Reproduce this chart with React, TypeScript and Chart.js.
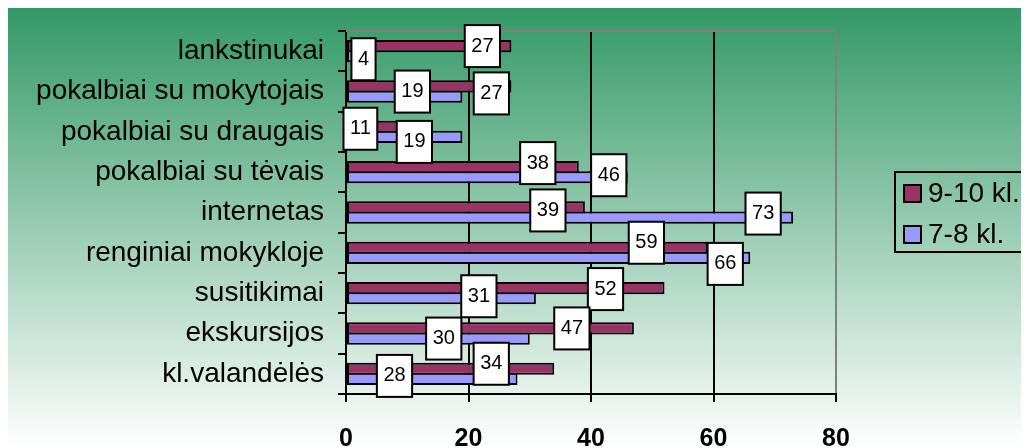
import React, { useEffect, useRef } from "react";
import { Chart, registerables } from "chart.js";

Chart.register(...registerables);

const categories = [
  "lankstinukai",
  "pokalbiai su mokytojais",
  "pokalbiai su draugais",
  "pokalbiai su tėvais",
  "internetas",
  "renginiai mokykloje",
  "susitikimai",
  "ekskursijos",
  "kl.valandėlės",
];
const series910 = [27, 27, 11, 38, 39, 59, 52, 47, 34];
const series78 = [4, 19, 19, 46, 73, 66, 31, 30, 28];
const seriesNames = ["9-10 kl.", "7-8 kl."];
const xTickValues = [0, 20, 40, 60, 80];

// styling: shift (px) of each value box from the bar end / bar centre
const labelShift910 = [[-29, 0], [-20, 7], [-53, 2], [-41, -4], [-37, 3], [-61, -5], [-59, 1], [-62, 0], [-63, -5]];
const labelShift78 = [[-7, 3], [-50, -5], [-48, 5], [-19, -2], [-30, -4], [-25, 6], [-57, -2], [-86, 0], [-123, -3]];

const FONT = '"Liberation Sans", Arial, sans-serif';
const COLORS = ["#993366", "#9999FF"];

const boxLabels = {
  id: "boxLabels",
  afterDatasetsDraw(chart: any) {
    const ctx = chart.ctx;
    ctx.save();
    ctx.font = `20px ${FONT}`;
    ctx.textAlign = "center";
    ctx.textBaseline = "middle";
    chart.data.datasets.forEach((ds: any, di: number) => {
      const meta = chart.getDatasetMeta(di);
      const shifts = di === 0 ? labelShift910 : labelShift78;
      meta.data.forEach((bar: any, i: number) => {
        const { x, y } = bar.getProps(["x", "y"], true);
        const cx = x + shifts[i][0];
        const cy = y + shifts[i][1];
        const text = String(ds.data[i]);
        const w = ctx.measureText(text).width + 13;
        const h = 42;
        ctx.fillStyle = "#ffffff";
        ctx.fillRect(cx - w / 2, cy - h / 2, w, h);
        ctx.lineWidth = 2;
        ctx.strokeStyle = "#000000";
        ctx.strokeRect(cx - w / 2, cy - h / 2, w, h);
        ctx.fillStyle = "#000000";
        ctx.fillText(text, cx, cy);
      });
    });
    ctx.restore();
  },
};

const frame = {
  id: "frame",
  beforeDatasetsDraw(chart: any) {
    const { ctx, chartArea } = chart;
    ctx.save();
    ctx.strokeStyle = "#808080";
    ctx.lineWidth = 2;
    ctx.beginPath();
    ctx.moveTo(chartArea.left, chartArea.top);
    ctx.lineTo(chartArea.right, chartArea.top);
    ctx.stroke();
    ctx.restore();
  },
};

const boxLegend = {
  id: "boxLegend",
  afterDraw(chart: any) {
    const ctx = chart.ctx;
    ctx.save();
    ctx.strokeStyle = "#000";
    ctx.lineWidth = 2;
    ctx.strokeRect(887, 164, 160, 80);
    ctx.font = `28px ${FONT}`;
    ctx.textAlign = "left";
    ctx.textBaseline = "alphabetic";
    seriesNames.forEach((name, i) => {
      const top = 177 + i * 41;
      ctx.fillStyle = COLORS[i];
      ctx.fillRect(896, top, 17, 17);
      ctx.strokeStyle = "#000";
      ctx.lineWidth = 2;
      ctx.strokeRect(896, top, 17, 17);
      ctx.fillStyle = "#000";
      ctx.fillText(name, 920, 194 + i * 41);
    });
    ctx.restore();
  },
};

export default function App() {
  const ref = useRef<HTMLCanvasElement | null>(null);
  useEffect(() => {
    if (!ref.current) return;
    const chart = new Chart(ref.current, {
      type: "bar",
      data: {
        labels: categories,
        datasets: [
          {
            label: seriesNames[0],
            data: series910,
            backgroundColor: COLORS[0],
            borderColor: "#000",
            borderWidth: 2,
            borderSkipped: false,
            categoryPercentage: 0.503,
            barPercentage: 1.197,
          },
          {
            label: seriesNames[1],
            data: series78,
            backgroundColor: COLORS[1],
            borderColor: "#000",
            borderWidth: 2,
            borderSkipped: false,
            categoryPercentage: 0.503,
            barPercentage: 1.197,
          },
        ],
      },
      options: {
        indexAxis: "y",
        animation: false,
        responsive: true,
        maintainAspectRatio: false,
        layout: { padding: { top: 23, right: 193, left: 0, bottom: 0 } },
        plugins: { legend: { display: false }, tooltip: { enabled: false } },
        scales: {
          x: {
            type: "linear",
            min: 0,
            max: 80,
            afterBuildTicks: (scale: any) => {
              scale.ticks = xTickValues.map((v) => ({ value: v }));
            },
            afterFit: (scale: any) => {
              scale.height = 54;
              scale.paddingLeft = 0;
              scale.paddingRight = 0;
            },
            grid: {
              color: (c: any) => (c.tick && c.tick.value === 80 ? "#808080" : "#000"),
              tickColor: "#000",
              lineWidth: 2,
              tickLength: 8,
            },
            border: { color: "#000", width: 2 },
            ticks: {
              color: "#000",
              padding: 22,
              font: { family: FONT, size: 25, weight: "bold" },
            },
          },
          y: {
            type: "category",
            afterFit: (scale: any) => {
              scale.width = 338;
              scale.paddingTop = 0;
              scale.paddingBottom = 0;
            },
            grid: {
              offset: true,
              drawOnChartArea: false,
              color: "#000",
              lineWidth: 2,
              tickLength: 8,
            },
            border: { color: "#000", width: 2 },
            ticks: {
              color: "#000",
              padding: 14,
              autoSkip: false,
              font: { family: FONT, size: 28 },
            },
          },
        },
      },
      plugins: [frame, boxLabels, boxLegend],
    } as any);
    return () => chart.destroy();
  }, []);

  return (
    <div
      style={{
        width: 1021,
        height: 440,
        background: "linear-gradient(to bottom, #339966 0%, #ffffff 100%)",
        position: "relative",
      }}
    >
      <canvas ref={ref} />
    </div>
  );
}
